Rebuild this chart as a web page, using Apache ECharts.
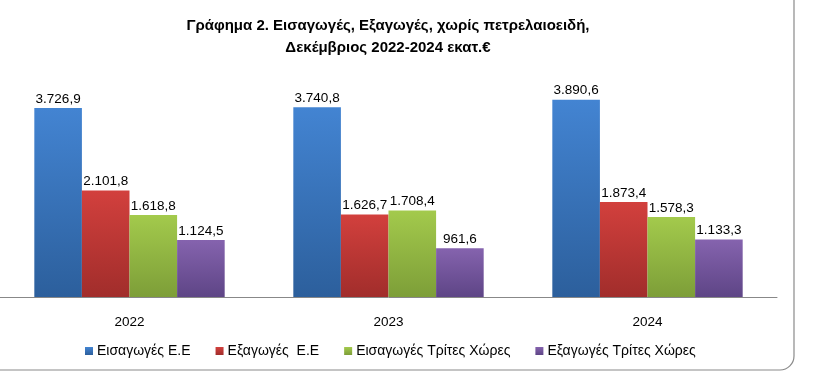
<!DOCTYPE html>
<html><head><meta charset="utf-8">
<script src="https://cdn.jsdelivr.net/npm/echarts@6/dist/echarts.min.js"></script>
<style>html,body{margin:0;padding:0;background:#fff}#c{width:822px;height:382px}</style>
</head><body><div id="c"></div>
<script>
const categories = ['2022', '2023', '2024'];
const seriesNames = ['Εισαγωγές Ε.Ε', 'Εξαγωγές  Ε.Ε', 'Εισαγωγές Τρίτες Χώρες', 'Εξαγωγές Τρίτες Χώρες'];
const importsEU = [3726.9, 3740.8, 3890.6];
const exportsEU = [2101.8, 1626.7, 1873.4];
const importsThird = [1618.8, 1708.4, 1578.3];
const exportsThird = [1124.5, 961.6, 1133.3];
const titleLines = ['Γράφημα 2. Εισαγωγές, Εξαγωγές, χωρίς πετρελαιοειδή,', 'Δεκέμβριος 2022-2024 εκατ.€'];

const colors = [['#4384d2', '#2c5f9c'], ['#d2403d', '#a12d2b'], ['#a3ca4c', '#7d9e38'], ['#8563ae', '#5e4586']];
const allData = [importsEU, exportsEU, importsThird, exportsThird];
function fmt(v) {
  const s = v.toFixed(1).split('.');
  return s[0].replace(/\B(?=(\d{3})+(?!\d))/g, '.') + ',' + s[1];
}
const chart = echarts.init(document.getElementById('c'));
chart.setOption({
  animation: false,
  title: {
    text: titleLines.join('\n'), left: 383, top: 10, textAlign: 'center',
    textStyle: { fontFamily: 'Liberation Sans', fontWeight: 'bold', fontSize: 15, lineHeight: 22, color: '#000' }
  },
  graphic: [{
    type: 'rect', shape: { x: -20, y: -20, width: 814, height: 390, r: 14 },
    style: { fill: 'none', stroke: '#8a8a8a', lineWidth: 1.2 }, z: -1
  }],
  legend: {
    bottom: 19, left: 80, itemWidth: 8, itemHeight: 8, itemGap: 25, icon: 'rect',
    textStyle: { fontFamily: 'Liberation Sans', fontSize: 14, color: '#000', padding: [0, 0, 0, -1] },
    data: seriesNames
  },
  grid: { left: 0, right: 45, top: 43.5, bottom: 85 },
  xAxis: {
    type: 'category', data: categories,
    axisLine: { lineStyle: { color: '#888', width: 1 } }, axisTick: { show: false },
    axisLabel: { fontFamily: 'Liberation Sans', fontSize: 13.5, color: '#000', margin: 18 }
  },
  yAxis: { type: 'value', min: 0, max: 5000, show: false, splitLine: { show: false } },
  series: allData.map((d, i) => ({
    name: seriesNames[i], type: 'bar', data: d, barGap: '0%', barCategoryGap: '26.5%',
    itemStyle: { color: new echarts.graphic.LinearGradient(0, 0, 0, 1, [{ offset: 0, color: colors[i][0] }, { offset: 1, color: colors[i][1] }]) },
    label: { show: true, position: 'top', distance: 2, formatter: p => fmt(p.value), fontFamily: 'Liberation Sans', fontSize: 13.5, color: '#000' }
  }))
});
</script></body></html>
